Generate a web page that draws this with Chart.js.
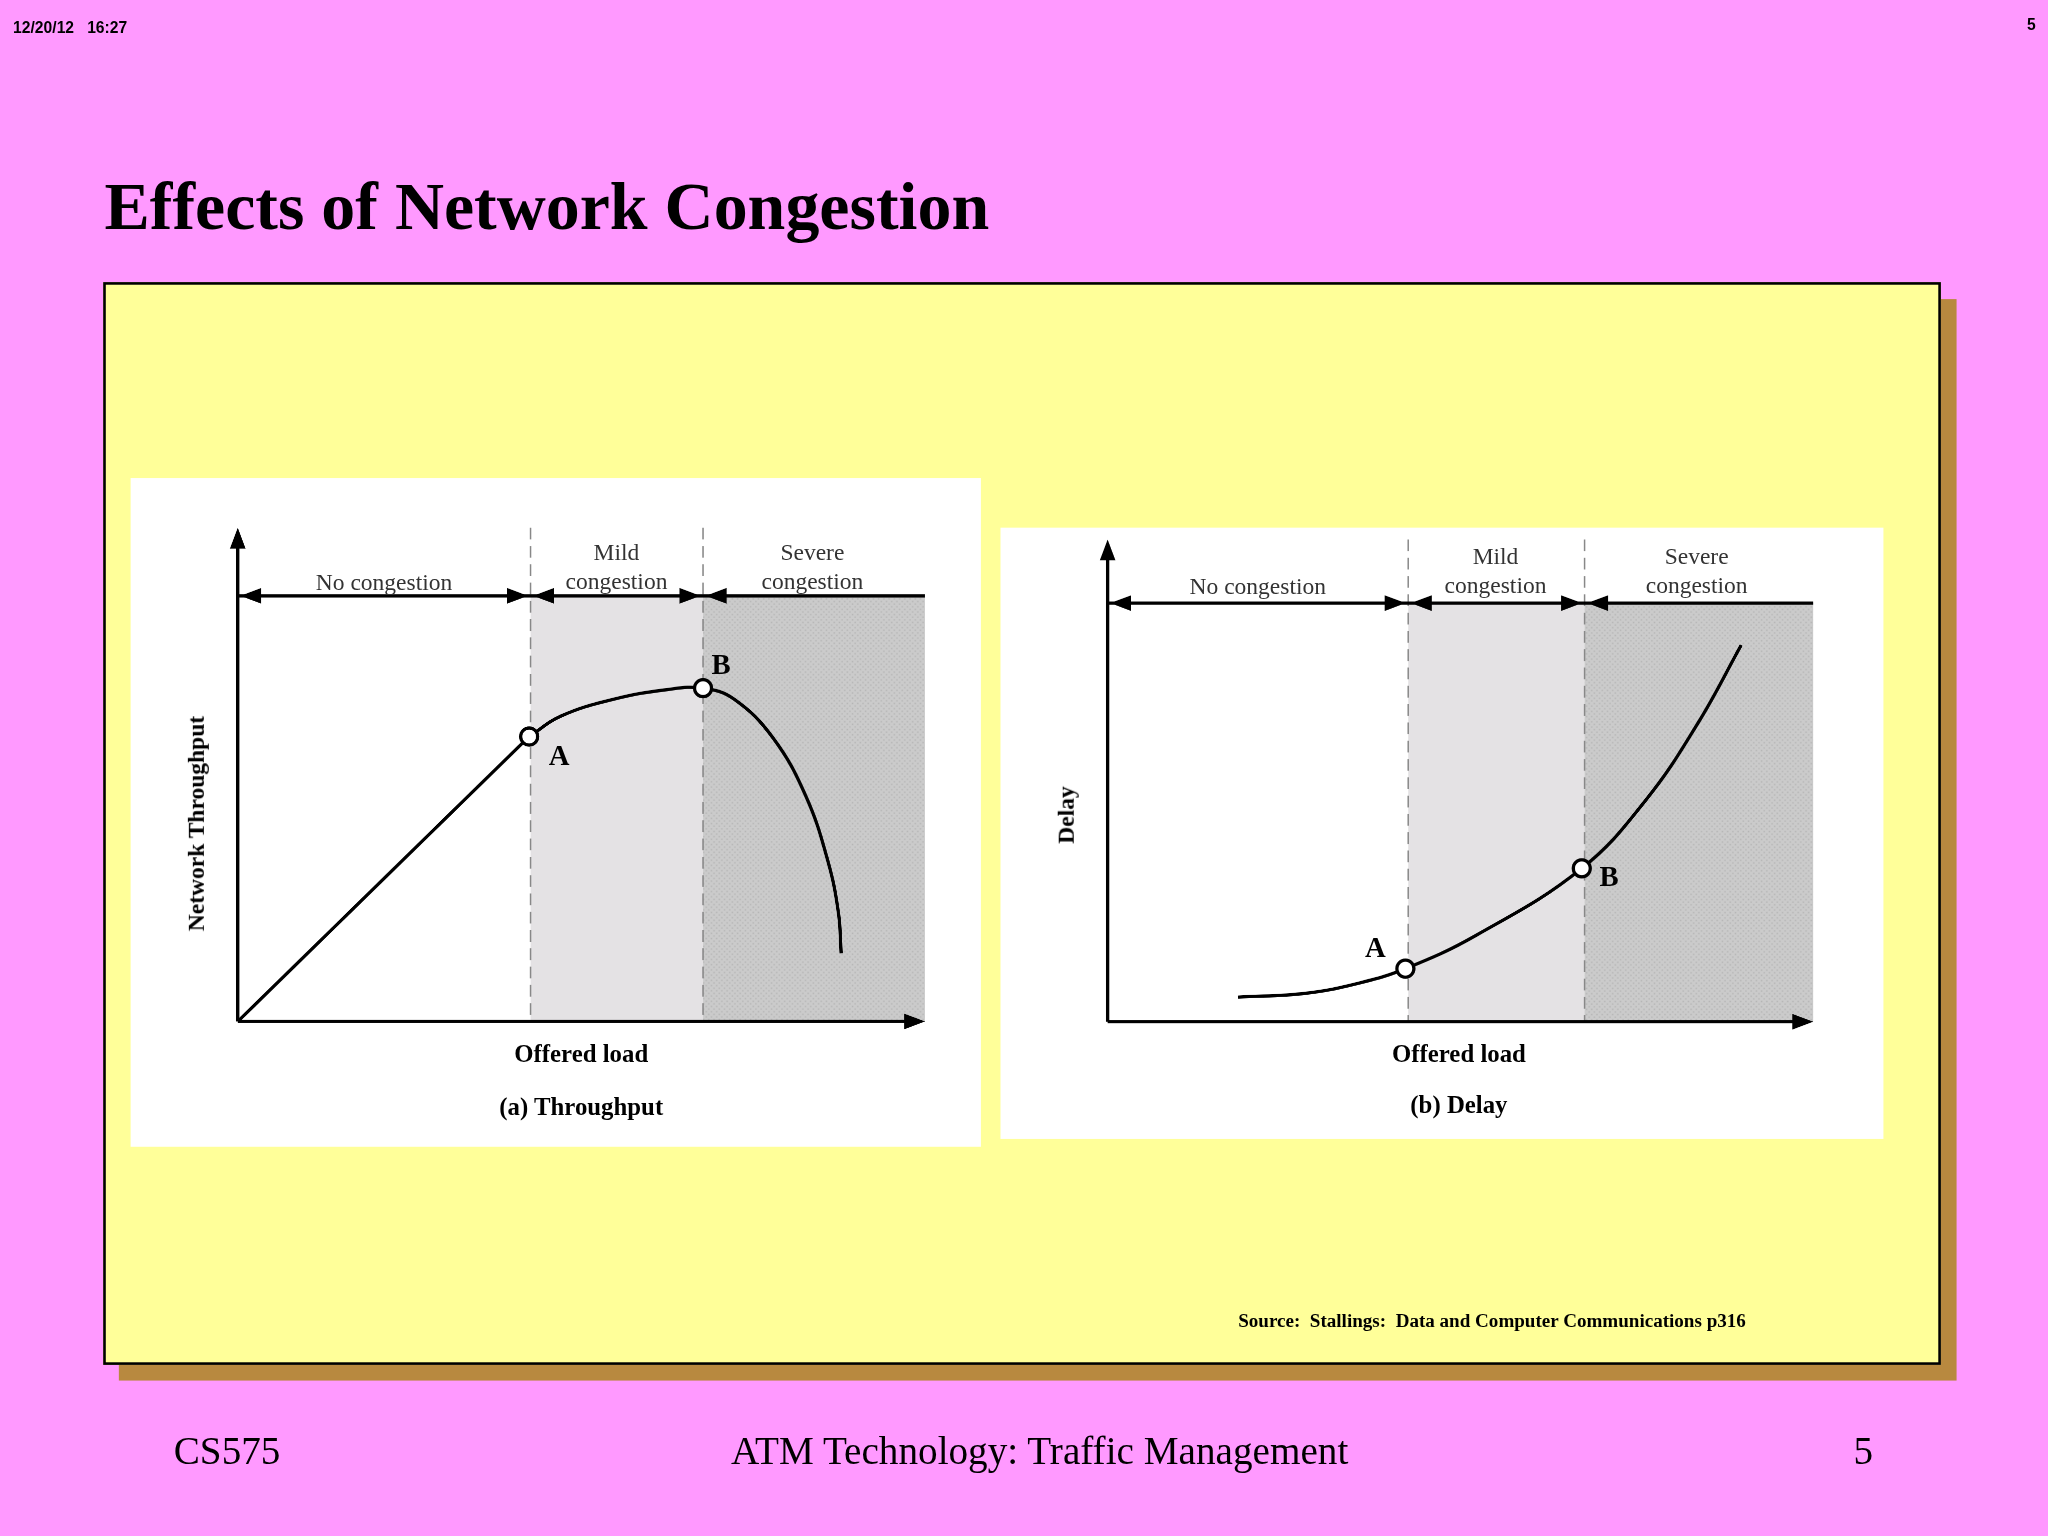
<!DOCTYPE html>
<html><head><meta charset="utf-8">
<script src="https://cdn.jsdelivr.net/npm/chart.js"></script>
<style>
html,body{margin:0;padding:0;background:#ff99ff;overflow:hidden;}
#stage{position:absolute;left:0;top:0;width:1568px;height:1176px;transform:scale(1.30612);transform-origin:0 0;font-family:"Liberation Serif",serif;}
.t{position:absolute;white-space:nowrap;}
.c{transform:translateX(-50%);text-align:center;}
.lbl{font-size:18px;color:#333;line-height:22px;}
.b{font-weight:bold;}
</style></head><body>
<div id="stage">
  <div class="t b" style="left:10px;top:14px;font:bold 12px 'Liberation Sans',sans-serif;">12/20/12&nbsp;&nbsp;&nbsp;16:27</div>
  <div class="t b" style="left:1552px;top:12px;font:bold 12px 'Liberation Sans',sans-serif;">5</div>
  <div class="t b" style="left:80px;top:128px;font-size:52px;">Effects of Network Congestion</div>
  <div style="position:absolute;left:91px;top:229px;width:1407px;height:828px;background:#b8893f;"></div>
  <div style="position:absolute;left:79px;top:216px;width:1403px;height:825px;background:#ffff99;border:2px solid #000;"></div>
  <div style="position:absolute;left:100px;top:366px;width:651px;height:512px;background:#fff;"><canvas id="c1"></canvas></div>
  <div style="position:absolute;left:766px;top:404px;width:676px;height:468px;background:#fff;"><canvas id="c2"></canvas></div>

  <div class="t lbl c" style="left:294px;top:435px;">No congestion</div>
  <div class="t lbl c" style="left:472px;top:412px;">Mild<br>congestion</div>
  <div class="t lbl c" style="left:622px;top:412px;">Severe<br>congestion</div>
  <div class="t b c" style="left:552px;top:496px;font-size:22px;">B</div>
  <div class="t b c" style="left:428px;top:566px;font-size:22px;">A</div>
  <div class="t b" style="left:140px;top:713px;font-size:18px;transform:rotate(-90deg);transform-origin:0 0;">Network Throughput</div>
  <div class="t b c" style="left:445px;top:796px;font-size:19px;">Offered load</div>
  <div class="t b c" style="left:445px;top:837px;font-size:19px;">(a) Throughput</div>

  <div class="t lbl c" style="left:963px;top:438px;">No congestion</div>
  <div class="t lbl c" style="left:1145px;top:415px;">Mild<br>congestion</div>
  <div class="t lbl c" style="left:1299px;top:415px;">Severe<br>congestion</div>
  <div class="t b c" style="left:1232px;top:658px;font-size:22px;">B</div>
  <div class="t b c" style="left:1053px;top:713px;font-size:22px;">A</div>
  <div class="t b" style="left:806px;top:646px;font-size:18px;transform:rotate(-90deg);transform-origin:0 0;">Delay</div>
  <div class="t b c" style="left:1117px;top:796px;font-size:19px;">Offered load</div>
  <div class="t b c" style="left:1117px;top:835px;font-size:19px;">(b) Delay</div>

  <div class="t b" style="left:948px;top:1003px;font-size:14.6px;">Source:&nbsp; Stallings:&nbsp; Data and Computer Communications p316</div>
  <div class="t" style="left:133px;top:1094px;font-size:30px;">CS575</div>
  <div class="t c" style="left:796px;top:1094px;font-size:30px;">ATM Technology: Traffic Management</div>
  <div class="t" style="left:1419px;top:1094px;font-size:30px;">5</div>
</div>
<script>
// zone boundaries (offered load, 0-100) and top arrow level
const zonesA = [42.6, 67.7];
const zonesB = [42.6, 67.6];
const topA = 86.2, topB = 86.8;

// (a) throughput: straight part up to A, then curve
const thruLinX = [0, 42.4];
const thruLinY = [0, 57.7];
const thruX = [42.4, 47.1, 54.8, 62.4, 67.7, 72.2, 77.9, 82.7, 85.9, 87.4, 87.8];
const thruY = [57.7, 61.9, 65.3, 67.2, 67.5, 65.3, 57.4, 45.5, 32.3, 22.0, 13.8];
const thruMarkX = [42.4, 67.7];
const thruMarkY = [57.7, 67.5];

// (b) delay curve
const delayX = [18.5, 28.1, 35.6, 42.2, 52.2, 67.2, 76.3, 83.7, 89.8];
const delayY = [5.1, 5.9, 8.0, 11.0, 17.9, 31.8, 46.0, 62.0, 78.1];
const delayMarkX = [42.2, 67.2];
const delayMarkY = [11.0, 31.8];

function zip(xs, ys) { return xs.map((x, i) => ({ x, y: ys[i] })); }

function makeDots() {
  const p = document.createElement('canvas'); p.width = 4; p.height = 4;
  const g = p.getContext('2d');
  g.fillStyle = '#cbcbcb'; g.fillRect(0, 0, 4, 4);
  g.fillStyle = '#b4b4b4'; g.fillRect(0, 0, 1, 1); g.fillRect(2, 2, 1, 1);
  return p;
}

function head(ctx, x, y, dir) {
  ctx.beginPath();
  if (dir === 'r') { ctx.moveTo(x, y); ctx.lineTo(x - 16, y - 6); ctx.lineTo(x - 16, y + 6); }
  if (dir === 'l') { ctx.moveTo(x, y); ctx.lineTo(x + 16, y - 6); ctx.lineTo(x + 16, y + 6); }
  if (dir === 'u') { ctx.moveTo(x, y); ctx.lineTo(x - 6, y + 16); ctx.lineTo(x + 6, y + 16); }
  ctx.closePath(); ctx.fill();
}

function decor(zones, topV) {
  return {
    id: 'decor',
    beforeDatasetsDraw(chart) {
      const { ctx, chartArea: a, scales: { x, y } } = chart;
      const x1 = x.getPixelForValue(zones[0]), x2 = x.getPixelForValue(zones[1]);
      const yt = y.getPixelForValue(topV), yb = y.getPixelForValue(0);
      ctx.save();
      ctx.fillStyle = '#e4e2e4'; ctx.fillRect(x1, yt, x2 - x1, yb - yt);
      ctx.fillStyle = ctx.createPattern(makeDots(), 'repeat'); ctx.fillRect(x2, yt, a.right - x2, yb - yt);
      ctx.strokeStyle = '#888'; ctx.lineWidth = 1.2; ctx.setLineDash([9, 5]);
      [x1, x2].forEach(px => { ctx.beginPath(); ctx.moveTo(px, a.top); ctx.lineTo(px, yb); ctx.stroke(); });
      ctx.restore();
    },
    afterDraw(chart) {
      const { ctx, chartArea: a, scales: { x, y } } = chart;
      const x1 = x.getPixelForValue(zones[0]), x2 = x.getPixelForValue(zones[1]);
      const yt = y.getPixelForValue(topV), yb = y.getPixelForValue(0);
      ctx.save();
      ctx.strokeStyle = '#000'; ctx.fillStyle = '#000'; ctx.lineWidth = 2.5;
      ctx.beginPath(); ctx.moveTo(a.left, yb); ctx.lineTo(a.right - 4, yb);
      ctx.moveTo(a.left, yb); ctx.lineTo(a.left, a.top + 4);
      ctx.moveTo(a.left, yt); ctx.lineTo(a.right, yt); ctx.stroke();
      head(ctx, a.right, yb, 'r'); head(ctx, a.left, a.top, 'u');
      [[a.left, x1], [x1, x2], [x2, a.right]].forEach(([s, e], i) => {
        head(ctx, s + 2, yt, 'l');
        if (i < 2) head(ctx, e - 2, yt, 'r');
      });
      ctx.restore();
    }
  };
}

function build(id, pad, curves, mx, my, zones, topV) {
  const lines = curves.map(([xs, ys, ten]) => ({
    type: 'line', data: zip(xs, ys), borderColor: '#000', borderWidth: 2.5,
    pointRadius: 0, tension: ten, fill: false, order: 1
  }));
  new Chart(document.getElementById(id), {
    type: 'scatter',
    data: {
      datasets: [
        { type: 'scatter', data: zip(mx, my), pointRadius: 6.5, pointBackgroundColor: '#fff', pointBorderColor: '#000', pointBorderWidth: 2.5, order: 0 },
        ...lines
      ]
    },
    plugins: [decor(zones, topV)],
    options: {
      responsive: true, maintainAspectRatio: false, animation: false, devicePixelRatio: 2.6,
      layout: { padding: pad },
      plugins: { legend: { display: false }, tooltip: { enabled: false } },
      scales: {
        x: { type: 'linear', min: 0, max: 100, display: false },
        y: { type: 'linear', min: 0, max: 100, display: false }
      }
    }
  });
}

build('c1', { left: 82, right: 43, top: 38, bottom: 96 },
  [[thruLinX, thruLinY, 0], [thruX, thruY, 0.4]], thruMarkX, thruMarkY, zonesA, topA);
build('c2', { left: 82, right: 54, top: 4, bottom: 90 },
  [[delayX, delayY, 0.4]], delayMarkX, delayMarkY, zonesB, topB);
</script>
</body></html>
